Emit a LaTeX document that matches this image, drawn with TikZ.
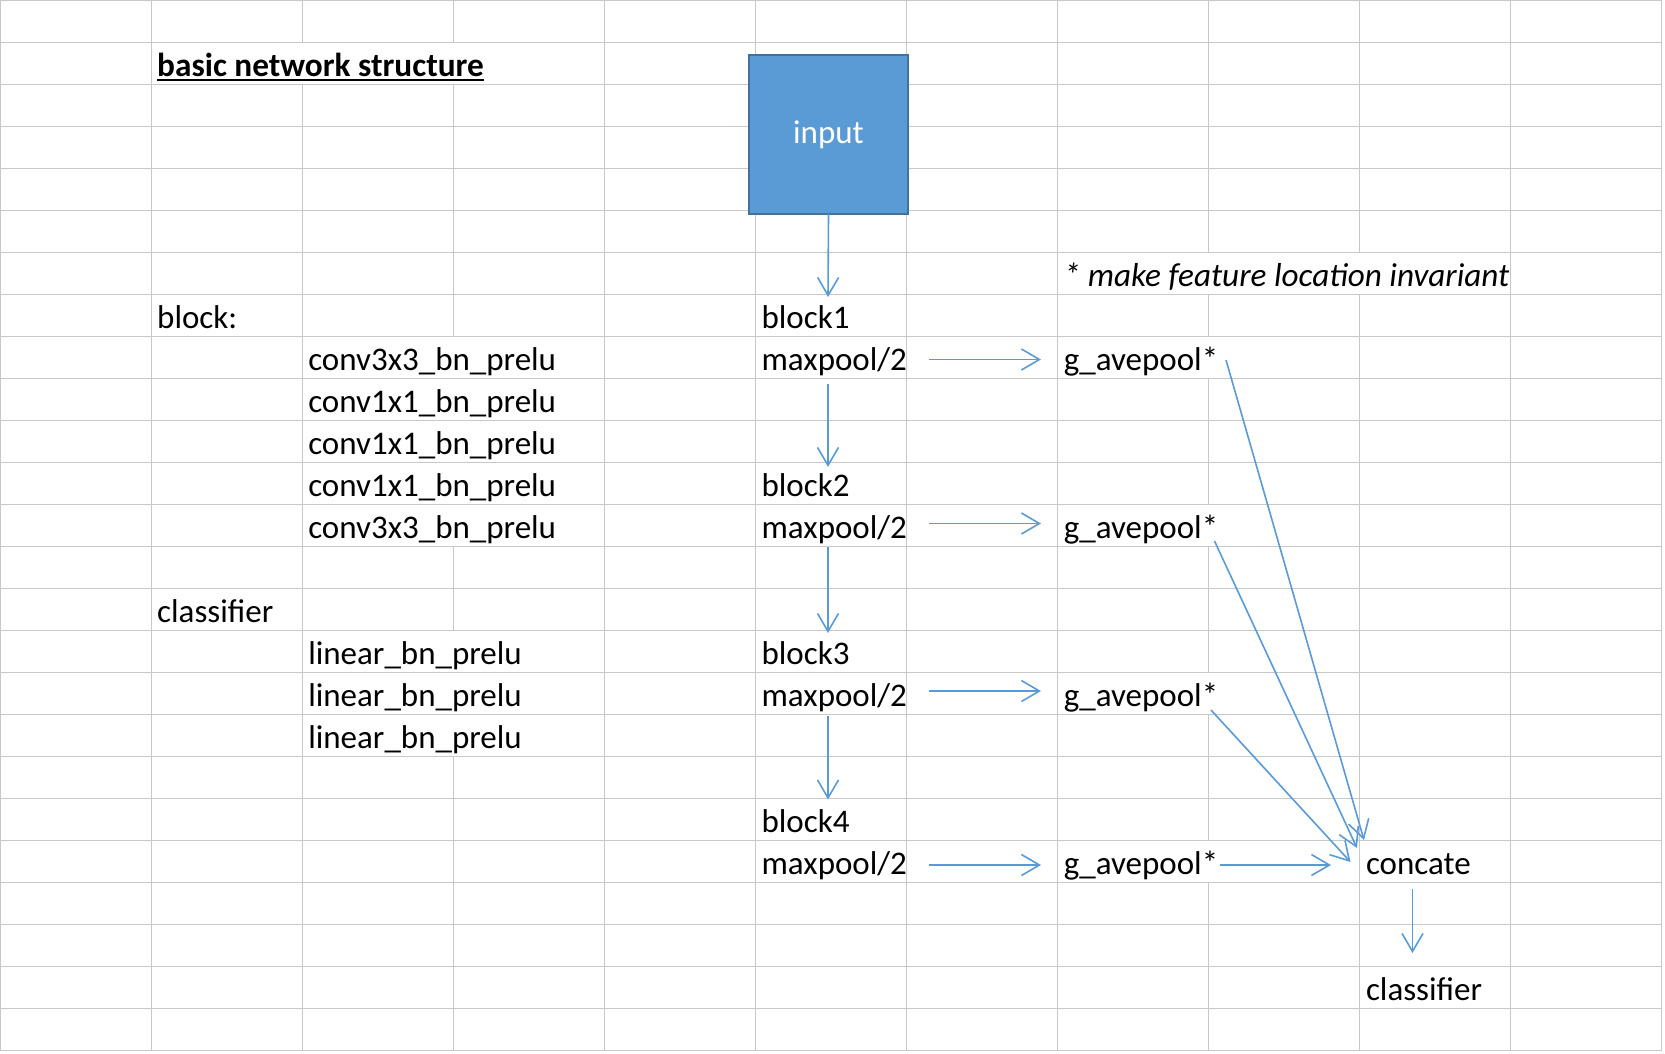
\documentclass[tikz,border=0pt]{standalone}
\usepackage{fontspec}
\setmainfont{Carlito}
\usetikzlibrary{arrows.meta}
\definecolor{gridc}{RGB}{200,200,200}
\definecolor{arrc}{RGB}{91,155,213}
\definecolor{boxfill}{RGB}{91,155,213}
\definecolor{boxline}{RGB}{65,113,156}
\begin{document}
\begin{tikzpicture}[x=1pt,y=-1pt,
  every node/.style={inner sep=0pt, outer sep=0pt, font=\fontsize{33}{40}\selectfont},
  cell/.style={anchor=base west},
  gline/.style={draw=gridc, line width=1.1pt},
  arr/.style={draw=arrc, line width=1.6pt, -{Straight Barb[length=18pt,width=21pt]}}]
\useasboundingbox (0,0) rectangle (1665,1053);
\fill[white] (0,0) rectangle (1665,1053);
% horizontal grid lines
\foreach \j in {0,...,25} \draw[gline] (0,{42*\j+0.5}) -- (1662,{42*\j+0.5});
% vertical grid lines (full)
\foreach \xx in {0.5,151.5,604.5,755.5,906.5,1057.5,1510.5,1661.5} \draw[gline] (\xx,0) -- (\xx,1050.5);
% vertical grid lines interrupted by overflowing text
\draw[gline] (302.5,0) -- (302.5,42.5) (302.5,84.5) -- (302.5,1050.5);
\draw[gline] (453.5,0) -- (453.5,42.5) (453.5,84.5) -- (453.5,336.5)
  (453.5,546.5) -- (453.5,630.5) (453.5,756.5) -- (453.5,1050.5);
\draw[gline] (1208.5,0) -- (1208.5,252.5) (1208.5,294.5) -- (1208.5,336.5)
  (1208.5,378.5) -- (1208.5,504.5) (1208.5,546.5) -- (1208.5,672.5)
  (1208.5,714.5) -- (1208.5,840.5) (1208.5,882.5) -- (1208.5,1050.5);
\draw[gline] (1359.5,0) -- (1359.5,252.5) (1359.5,294.5) -- (1359.5,1050.5);

% input box
\node[draw=boxline, fill=boxfill, line width=2.3pt, minimum width=159pt, minimum height=158.6pt, text=white] (input) at (828.5,134.5) {input};

% left texts
\node[cell, font=\fontsize{33.3}{40}\selectfont\bfseries] (title) at (157.2,76.6) {basic network structure};
\draw[line width=2pt] ([yshift=-3pt]title.base west) -- ([yshift=-3pt]title.base east);
\node[cell] (blocklbl) at (157.2,328.6) {block:};
\node[cell] (c1) at (308.3,370.6) {conv3x3\_bn\_prelu};
\node[cell] (c2) at (308.3,412.6) {conv1x1\_bn\_prelu};
\node[cell] (c3) at (308.3,454.6) {conv1x1\_bn\_prelu};
\node[cell] (c4) at (308.3,496.6) {conv1x1\_bn\_prelu};
\node[cell] (c5) at (308.3,538.6) {conv3x3\_bn\_prelu};
\node[cell] (clslbl) at (157.2,622.6) {classifier};
\node[cell] (l1) at (308.3,664.6) {linear\_bn\_prelu};
\node[cell] (l2) at (308.3,706.6) {linear\_bn\_prelu};
\node[cell] (l3) at (308.3,748.6) {linear\_bn\_prelu};

% middle column
\node[cell] (b1) at (761.6,328.6) {block1};
\node[cell] (m1) at (761.6,370.6) {maxpool/2};
\node[cell] (b2) at (761.6,496.6) {block2};
\node[cell] (m2) at (761.6,538.6) {maxpool/2};
\node[cell] (b3) at (761.6,664.6) {block3};
\node[cell] (m3) at (761.6,706.6) {maxpool/2};
\node[cell] (b4) at (761.6,832.6) {block4};
\node[cell] (m4) at (761.6,874.6) {maxpool/2};

% pooling column
\node[cell, font=\fontsize{33.2}{40}\selectfont\itshape] (note) at (1063.8,286.6) {* make feature location invariant};
\node[cell] (g1) at (1063.8,370.6) {g\_avepool*};
\node[cell] (g2) at (1063.8,538.6) {g\_avepool*};
\node[cell] (g3) at (1063.8,706.6) {g\_avepool*};
\node[cell] (g4) at (1063.8,874.6) {g\_avepool*};

% output column
\node[cell] (cc) at (1366,874.6) {concate};
\node[cell] (cls) at (1366,1000.6) {classifier};

% connector end points
\coordinate (inE) at (828,297);
\coordinate (h1s) at (929,359.5);   \coordinate (h1e) at (1041,359.5);
\coordinate (v1s) at (828,384);     \coordinate (v1e) at (828,467);
\coordinate (h2s) at (929,523.5);   \coordinate (h2e) at (1041,523.5);
\coordinate (v2s) at (828,547);     \coordinate (v2e) at (828,633);
\coordinate (h3s) at (929,691);     \coordinate (h3e) at (1041,691);
\coordinate (v3s) at (828,716);     \coordinate (v3e) at (828,799.5);
\coordinate (h4s) at (929,865);     \coordinate (h4e) at (1041,865);
\coordinate (d1s) at (1226,360);    \coordinate (d1e) at (1364,840);
\coordinate (d2s) at (1214.5,541);  \coordinate (d2e) at (1357,848);
\coordinate (d3s) at (1211,710);    \coordinate (d3e) at (1350.5,862);
\coordinate (d4s) at (1220,865);    \coordinate (d4e) at (1331,865);
\coordinate (fs) at (1412.5,889);   \coordinate (fe) at (1412.5,953);

\draw[arr] (input.south) -- (inE);
\draw[arr] (h1s) -- (h1e);
\draw[arr] (v1s) -- (v1e);
\draw[arr] (h2s) -- (h2e);
\draw[arr] (v2s) -- (v2e);
\draw[arr] (h3s) -- (h3e);
\draw[arr] (v3s) -- (v3e);
\draw[arr] (h4s) -- (h4e);
\draw[arr] (d1s) -- (d1e);
\draw[arr] (d2s) -- (d2e);
\draw[arr] (d3s) -- (d3e);
\draw[arr] (d4s) -- (d4e);
\draw[arr] (fs) -- (fe);
\end{tikzpicture}
\end{document}
